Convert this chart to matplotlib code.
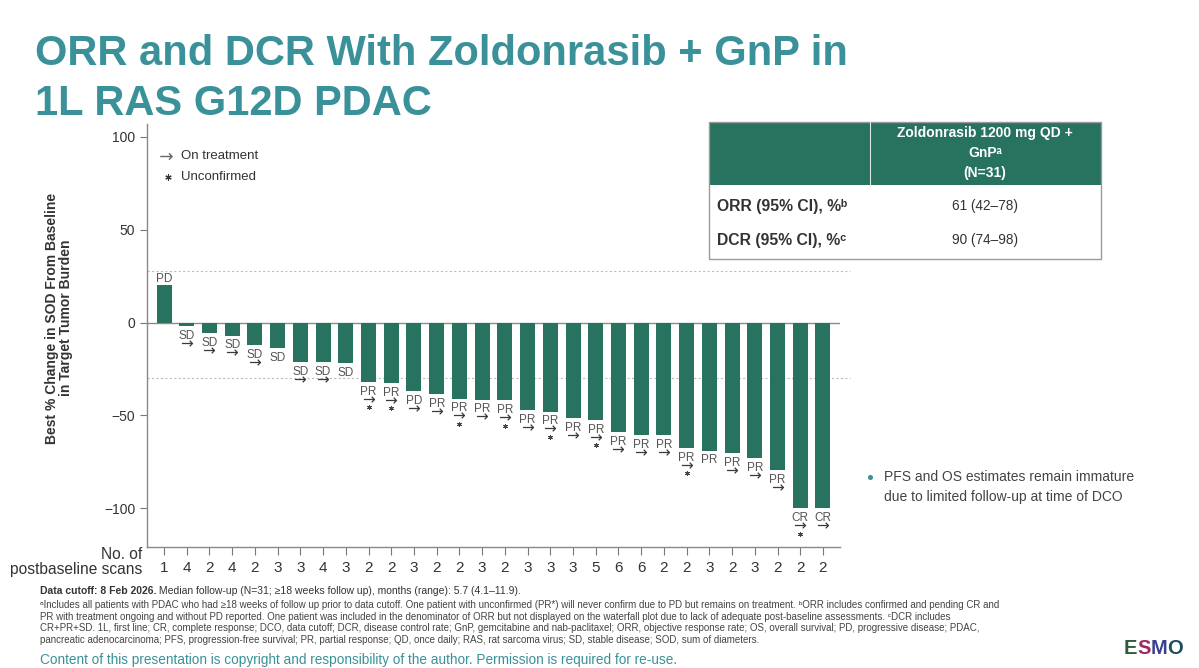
import matplotlib
matplotlib.use("Agg")
import matplotlib.pyplot as plt
from matplotlib.patches import Rectangle
from matplotlib.transforms import offset_copy
import numpy as np

# ---------------- data ----------------
pct_change = [20, -2, -5.5, -7, -12, -14, -21.5, -21.5, -22, -32, -32.5, -37, -38.5, -41, -41.5,
              -42, -47, -48, -51.5, -52.5, -59, -60.5, -60.5, -67.5, -69, -70.5, -73, -79.5, -100, -100]
response = ['PD', 'SD', 'SD', 'SD', 'SD', 'SD', 'SD', 'SD', 'SD', 'PR', 'PR', 'PD', 'PR', 'PR', 'PR',
            'PR', 'PR', 'PR', 'PR', 'PR', 'PR', 'PR', 'PR', 'PR', 'PR', 'PR', 'PR', 'PR', 'CR', 'CR']
on_treatment = [0, 1, 1, 1, 1, 0, 1, 1, 0, 1, 1, 1, 1, 1, 1,
                1, 1, 1, 1, 1, 1, 1, 1, 1, 0, 1, 1, 1, 1, 1]
unconfirmed = [0, 0, 0, 0, 0, 0, 0, 0, 0, 1, 1, 0, 0, 1, 0,
               1, 0, 1, 0, 1, 0, 0, 0, 1, 0, 0, 0, 0, 1, 0]
scans = [1, 4, 2, 4, 2, 3, 3, 4, 3, 2, 2, 3, 2, 2, 3,
         2, 3, 3, 3, 5, 6, 6, 2, 2, 3, 2, 3, 2, 2, 2]
y_ticks = [-100, -50, 0, 50, 100]
threshold_lines = [28, -30]

table_header = "Zoldonrasib 1200 mg QD +\nGnPᵃ\n(N=31)"
table_rows = ["ORR (95% CI), %ᵇ", "DCR (95% CI), %ᶜ"]
table_values = ["61 (42–78)", "90 (74–98)"]

# ---------------- style ----------------
GREEN = '#28735f'
TEAL = '#3a9199'
GRAY_TXT = '#555555'
DARK = '#333333'
FONT = ['Liberation Sans', 'DejaVu Sans']
plt.rcParams['font.family'] = FONT

W, H = 1199, 668
fig = plt.figure(figsize=(W / 100, H / 100), dpi=100)
fig.patch.set_facecolor('white')

# overlay in pixel coordinates for slide text
ov = fig.add_axes([0, 0, 1, 1])
ov.set_xlim(0, W)
ov.set_ylim(H, 0)
ov.axis('off')

# ---------------- main chart ----------------
left, right, top, bottom = 147, 840, 124, 547
ax = fig.add_axes([left / W, 1 - bottom / H, (right - left) / W, (bottom - top) / H])
ax.set_facecolor('none')
x = np.arange(1, len(pct_change) + 1)
ax.bar(x, pct_change, width=0.66, color=GREEN, zorder=3)
ax.set_xlim(0.25, len(pct_change) + 0.75)
ax.set_ylim(-121, 107)
ax.axhline(0, color='#8a8a8a', lw=1.0, zorder=2)
for yv in threshold_lines:
    ax.plot([0.25, len(pct_change) + 1.2], [yv, yv], ls=(0, (2, 2)), color='#bdbdbd',
            lw=0.8, clip_on=False, zorder=1)

ax.set_yticks(y_ticks)
ax.set_yticklabels([str(v).replace('-', '−') for v in y_ticks], fontsize=10, color=DARK)
ax.set_xticks(x)
ax.set_xticklabels([str(s) for s in scans], fontsize=11, color=DARK)
ax.tick_params(axis='both', direction='out', length=5, color='#777777', width=0.8)
ax.tick_params(axis='x', length=6, pad=4)
for s in ['top', 'right']:
    ax.spines[s].set_visible(False)
for s in ['left', 'bottom']:
    ax.spines[s].set_color('#888888')
    ax.spines[s].set_linewidth(1.0)

ov.text(59, 318, "Best % Change in SOD From Baseline\nin Target Tumor Burden",
        fontsize=10, fontweight='bold', color=DARK, rotation=90, ha='center', va='center',
        multialignment='center', linespacing=1.05)

arrow_tr = offset_copy(ax.transData, fig=fig, x=0, y=-16.8, units='dots')
star_tr = offset_copy(ax.transData, fig=fig, x=0, y=-25.5, units='dots')
for xi, v, r, t, u in zip(x, pct_change, response, on_treatment, unconfirmed):
    if v > 0:
        ax.annotate(r, (xi, v), xytext=(0, 2.2), textcoords='offset points',
                    ha='center', va='baseline', fontsize=8.5, color=GRAY_TXT, zorder=4)
        continue
    ax.annotate(r, (xi, v), xytext=(0, -9.3), textcoords='offset points',
                ha='center', va='baseline', fontsize=8.5, color=GRAY_TXT, zorder=4)
    if t:
        ax.plot([xi], [v], marker=r'$\rightarrow$', markersize=8, mew=0, color='#3a3a3a',
                transform=arrow_tr, clip_on=False, zorder=4, ls='none')
    if u:
        ax.plot([xi], [v], marker=(6, 2, 0), markersize=3.4, mew=0.7, color='#444444',
                transform=star_tr, clip_on=False, zorder=4, ls='none')

# legend (symbols drawn as markers)
ov.plot([166], [156], marker=r'$\rightarrow$', markersize=9, mew=0, color='#666666', ls='none')
ov.plot([168], [177], marker=(6, 2, 0), markersize=4.5, mew=0.8, color=DARK, ls='none')
ov.text(181, 156, 'On treatment', fontsize=9.5, color=DARK, va='center')
ov.text(181, 177, 'Unconfirmed', fontsize=9.5, color=DARK, va='center')

# x-axis row title
ov.text(142, 562, 'No. of\npostbaseline scans', fontsize=11.2, color=DARK, ha='right',
        va='center', multialignment='right', linespacing=1.0)

# ---------------- title ----------------
ov.text(35, 65, 'ORR and DCR With Zoldonrasib + GnP in', fontsize=30, fontweight='bold',
        color=TEAL, va='baseline')
ov.text(35, 115, '1L RAS G12D PDAC', fontsize=30, fontweight='bold',
        color=TEAL, va='baseline')

# ---------------- table ----------------
tx0, tx1, ty0, ty1, th = 709, 1101, 122, 259, 185
ov.add_patch(Rectangle((tx0, ty0), tx1 - tx0, th - ty0, facecolor=GREEN, edgecolor='none'))
ov.add_patch(Rectangle((tx0, ty0), tx1 - tx0, ty1 - ty0, facecolor='none',
                       edgecolor='#9a9a9a', lw=1.0))
ov.plot([870, 870], [ty0, th], color='#d8e6e1', lw=0.8)
ov.text(985, 153, table_header, fontsize=10, fontweight='bold', color='white',
        ha='center', va='center', linespacing=1.5)
for i, (lab, val) in enumerate(zip(table_rows, table_values)):
    yy = 206 + i * 34
    ov.text(717, yy, lab, fontsize=11.3, fontweight='bold', color=DARK, va='center')
    ov.text(985, yy, val, fontsize=9.8, color=DARK, ha='center', va='center')

# ---------------- bullet ----------------
ov.plot([870], [477], marker='o', markersize=2.6, color=TEAL, ls='none')
ov.text(884, 487, 'PFS and OS estimates remain immature\ndue to limited follow-up at time of DCO',
        fontsize=10, color='#444444', va='center', linespacing=1.5)

# ---------------- footer ----------------
t1 = ov.text(40, 591, 'Data cutoff: 8 Feb 2026.', fontsize=7.5, fontweight='bold',
             color=DARK, va='center')
ov.annotate(' Median follow-up (N=31; ≥18 weeks follow up), months (range): 5.7 (4.1–11.9).',
            xy=(1, 0.5), xycoords=t1, fontsize=7.5, color=DARK, va='center', ha='left')
foot = [
    "ᵃIncludes all patients with PDAC who had ≥18 weeks of follow up prior to data cutoff. One patient with unconfirmed (PR*) will never confirm due to PD but remains on treatment. ᵇORR includes confirmed and pending CR and",
    "PR with treatment ongoing and without PD reported. One patient was included in the denominator of ORR but not displayed on the waterfall plot due to lack of adequate post-baseline assessments. ᶜDCR includes",
    "CR+PR+SD. 1L, first line; CR, complete response; DCO, data cutoff; DCR, disease control rate; GnP, gemcitabine and nab-paclitaxel; ORR, objective response rate; OS, overall survival; PD, progressive disease; PDAC,",
    "pancreatic adenocarcinoma; PFS, progression-free survival; PR, partial response; QD, once daily; RAS, rat sarcoma virus; SD, stable disease; SOD, sum of diameters.",
]
for i, line in enumerate(foot):
    ov.text(40, 605 + i * 11.7, line, fontsize=7.0, color='#444444', va='center')
ov.text(40, 660, 'Content of this presentation is copyright and responsibility of the author. '
        'Permission is required for re-use.', fontsize=9.8, color=TEAL, va='center')

# ESMO logo text
logo_cols = ['#2f5d3a', '#9b2b5e', '#3a3f8f', '#1e4d5c']
prev = ov.text(1124, 648, 'E', fontsize=14.5, fontweight='bold', color=logo_cols[0], va='center')
for ch, c in zip('SMO', logo_cols[1:]):
    prev = ov.annotate(ch, xy=(1, 0.5), xycoords=prev, fontsize=14.5, fontweight='bold',
                       color=c, va='center', ha='left')

fig.savefig('out.png', dpi=100, facecolor='white')
